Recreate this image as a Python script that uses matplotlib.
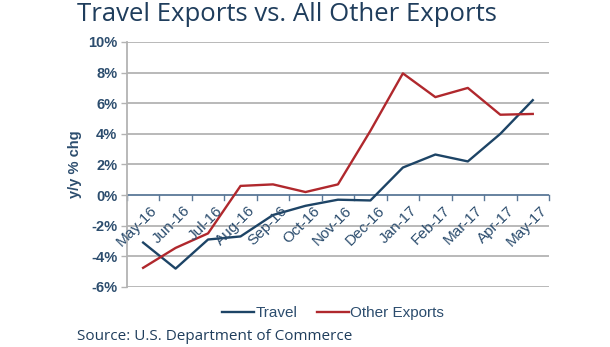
import matplotlib
matplotlib.use("Agg")
import matplotlib.pyplot as plt
import numpy as np

# monthly y/y % change
months = ["May-16", "Jun-16", "Jul-16", "Aug-16", "Sep-16", "Oct-16", "Nov-16",
          "Dec-16", "Jan-17", "Feb-17", "Mar-17", "Apr-17", "May-17"]
travel = [-3.1, -4.8, -2.9, -2.7, -1.3, -0.7, -0.3, -0.35, 1.8, 2.65, 2.2, 4.0, 6.2]
other_exports = [-4.75, -3.45, -2.5, 0.6, 0.7, 0.2, 0.7, 4.2, 7.95, 6.4, 7.0, 5.25, 5.3]
yticks = [-6, -4, -2, 0, 2, 4, 6, 8, 10]

TEXT = "#2c4d6e"
NAVY = "#1d4466"
RED = "#b0282d"
GRID = "#b3b3b3"

fig = plt.figure(figsize=(6.1, 3.47), dpi=100)
ax = fig.add_axes([0.208, 0.173, 0.692, 0.706])

x = np.arange(len(months))
ax.plot(x, travel, color=NAVY, lw=1.7, label="Travel", zorder=3)
ax.plot(x, other_exports, color=RED, lw=1.7, label="Other Exports", zorder=3)

ax.set_xlim(-0.5, len(months) - 0.5)
ax.set_ylim(-6, 10)
ax.set_yticks(yticks)
ax.set_yticklabels([f"{v}%" for v in yticks], fontsize=10.5, fontweight="bold",
                   color=TEXT, family="Liberation Sans")
for v in yticks:
    if v != 0:
        ax.axhline(v, color=GRID, lw=1.3, zorder=1)
ax.axhline(0, color="#5b7897", lw=1.3, zorder=2)

# category boundary ticks on the zero line
for b in np.arange(-0.5, len(months), 1.0):
    ax.plot([b, b], [0, -0.35], color="#5b7897", lw=1.0, zorder=2, clip_on=False)

ax.set_xticks([])
for i, m in enumerate(months):
    ax.text(i + 0.22, -0.55, m, rotation=45, rotation_mode="anchor", ha="right",
            va="top", fontsize=11, color=TEXT, family="Liberation Sans")

for s in ["top", "right", "bottom"]:
    ax.spines[s].set_visible(False)
ax.spines["left"].set_color(GRID)
ax.spines["left"].set_linewidth(1.3)
ax.tick_params(axis="y", length=4, color=GRID, width=1.0, pad=3)

ax.set_ylabel("y/y % chg", fontsize=10.5, fontweight="bold", color=TEXT,
              family="Liberation Sans", labelpad=4)

fig.text(0.126, 0.958, "Travel Exports vs. All Other Exports", fontsize=18.5,
         color="#1f3d5c", family="Open Sans", va="center", ha="left")

fig.legend(loc="center", bbox_to_anchor=(0.546, 0.098), ncol=2, frameon=False,
           prop={"family": "Liberation Sans", "size": 11}, handlelength=2.1,
           handletextpad=0.08, columnspacing=1.3, labelcolor=TEXT)

fig.text(0.126, 0.029, "Source: U.S. Department of Commerce", fontsize=11,
         color="#1f3d5c", family="Open Sans", va="center", ha="left")

fig.savefig("out.png", dpi=100)
